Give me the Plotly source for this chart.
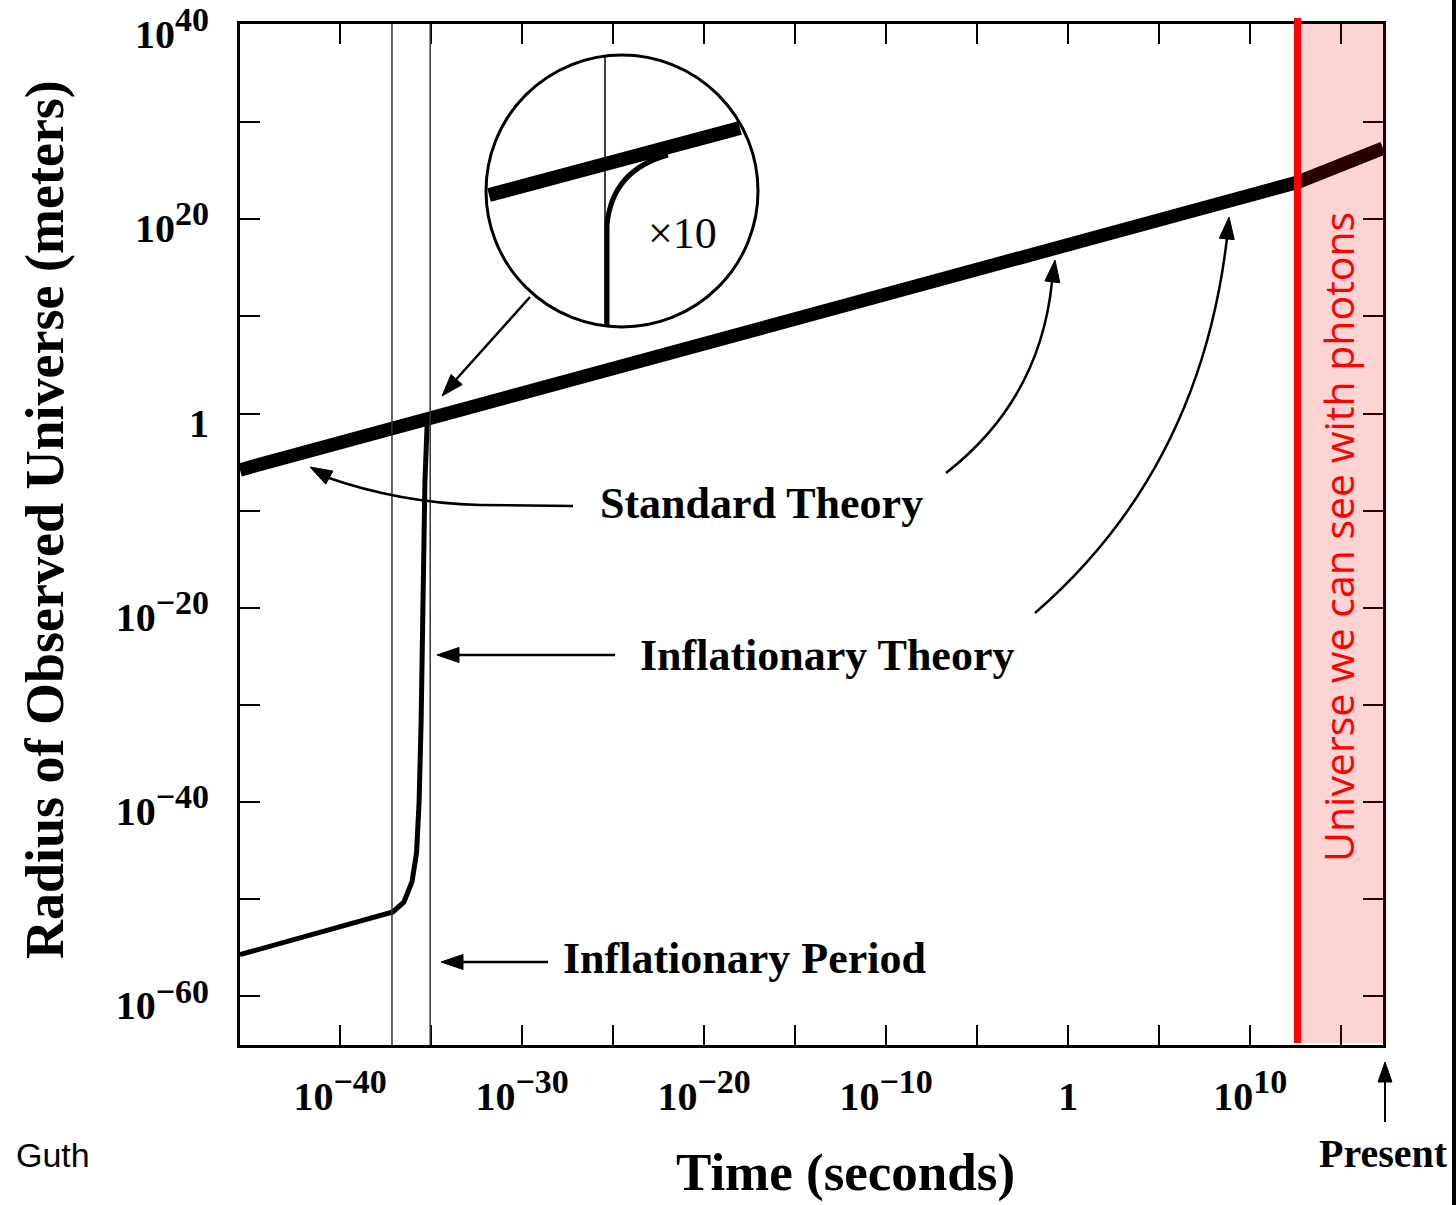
import plotly.graph_objects as go

# ---- data: base-10 exponents of time (s) and radius (m) ----
std_time_exp = [-45.5, -35.2, 0.0, 12.6, 17.3]
std_radius_exp = [-5.8, -0.5, 17.3, 23.8, 27.3]

infl_time_exp = [-45.5, -37.1, -36.5, -36.05, -35.8, -35.66, -35.55, -35.45, -35.34, -35.22]
infl_radius_exp = [-55.7, -51.3, -50.3, -48.2, -45.2, -40.0, -31.8, -19.4, -7.0, -1.2]

period_bounds_exp = [-37.15, -35.05]   # start / end of the inflationary period
photon_limit_exp = 12.6                # earliest time reachable with photons

x_tick_exp = list(range(-40, 16, 5))
y_tick_exp = list(range(-60, 41, 10))
x_label_exp = [-40, -30, -20, -10, 0, 10]
y_label_exp = [-60, -40, -20, 0, 20, 40]

X_RANGE = [-45.5, 17.3]
Y_RANGE = [-65.0, 40.1]

# ---- figure geometry (pixels) ----
W, H = 1456, 1205
L, R, T, B = 240, 1383, 24, 1045

SERIF = "Liberation Serif"


def pp(x, y):
    """pixel position -> paper coordinates"""
    return (x - L) / (R - L), (B - y) / (B - T)


def xexp_paper(e):
    return (e - X_RANGE[0]) / (X_RANGE[1] - X_RANGE[0])


def fmt(pt):
    x, y = pp(*pt)
    return f"{x:.5f},{y:.5f}"


def path_str(cmds):
    out = []
    for c in cmds:
        op, pts = c[0], c[1:]
        out.append(op + " " + " ".join(fmt(p) for p in pts))
    return " ".join(out)


def exp_label(e):
    if e == 0:
        return "1"
    s = str(e).replace("-", "\u2212")
    return f'10<sup><span style="font-size:34px">{s}</span></sup>'


shapes = []
annotations = []


def add_path(cmds, width=2.5, color="black", fill=None):
    shapes.append(dict(type="path", xref="paper", yref="paper", path=path_str(cmds),
                       line=dict(color=color, width=width),
                       fillcolor=fill if fill else "rgba(0,0,0,0)", layer="above"))


def add_head(tip, direction, length=22, width=15):
    dx, dy = direction
    n = (dx * dx + dy * dy) ** 0.5
    ux, uy = dx / n, dy / n
    bx, by = tip[0] - ux * length, tip[1] - uy * length
    nx, ny = -uy, ux
    c1 = (bx + nx * width / 2, by + ny * width / 2)
    c2 = (bx - nx * width / 2, by - ny * width / 2)
    shapes.append(dict(type="path", xref="paper", yref="paper",
                       path=path_str([("M", tip), ("L", c1), ("L", c2), ("Z",)]),
                       line=dict(color="black", width=1), fillcolor="black", layer="above"))


def add_text(text, x, y, size, family=SERIF, weight="bold", color="black",
             xanchor="center", yanchor="middle", angle=0):
    px_, py_ = pp(x, y)
    annotations.append(dict(text=text, x=px_, y=py_, xref="paper", yref="paper",
                            showarrow=False, xanchor=xanchor, yanchor=yanchor,
                            textangle=angle,
                            font=dict(family=family, size=size, color=color, weight=weight)))


fig = go.Figure()

fig.add_trace(go.Scatter(
    x=[10 ** e for e in infl_time_exp], y=[10 ** e for e in infl_radius_exp],
    mode="lines", line=dict(color="black", width=5), hoverinfo="skip", showlegend=False))

fig.add_trace(go.Scatter(
    x=[10 ** e for e in std_time_exp], y=[10 ** e for e in std_radius_exp],
    mode="lines", line=dict(color="black", width=13.5), hoverinfo="skip", showlegend=False))

# inflationary period boundaries
for e in period_bounds_exp:
    xp = xexp_paper(e)
    shapes.append(dict(type="line", xref="paper", yref="paper", x0=xp, x1=xp, y0=0, y1=1,
                       line=dict(color="#333333", width=1.5), layer="above"))

# magnified inset
cx, cy, rad = 622, 191, 136
x0, y0 = pp(cx - rad, cy + rad)
x1, y1 = pp(cx + rad, cy - rad)
shapes.append(dict(type="circle", xref="paper", yref="paper", x0=x0, y0=y0, x1=x1, y1=y1,
                   line=dict(color="black", width=3), fillcolor="white", layer="above"))
a0, b0 = pp(605, 56)
a1, b1 = pp(605, 326)
shapes.append(dict(type="line", xref="paper", yref="paper", x0=a0, y0=b0, x1=a1, y1=b1,
                   line=dict(color="black", width=1.5), layer="above"))
a0, b0 = pp(489, 195)
a1, b1 = pp(740, 128)
shapes.append(dict(type="line", xref="paper", yref="paper", x0=a0, y0=b0, x1=a1, y1=b1,
                   line=dict(color="black", width=14), layer="above"))
add_path([("M", (607, 327)), ("L", (607, 225)), ("Q", (612, 170), (668, 155))], width=5)
add_text("\u00d710", 682, 233, 44, weight="normal")

# arrows
add_path([("M", (530, 297)), ("L", (452, 384))])
add_head((442, 396), (-88, 99))

add_path([("M", (573, 506)), ("L", (480, 505)), ("Q", (400, 503), (326, 477))])
add_head((310, 467), (-1, -0.55))

add_path([("M", (946, 473)), ("Q", (1040, 400), (1052, 282))])
add_head((1055, 260), (0.12, -1))

add_path([("M", (615, 655)), ("L", (455, 655))])
add_head((437, 655), (-1, 0))

add_path([("M", (1035, 613)), ("Q", (1200, 470), (1227, 238))])
add_head((1229, 217), (0.1, -1))

add_path([("M", (548, 962)), ("L", (460, 962))])
add_head((441, 962), (-1, 0))

add_path([("M", (1385, 1122)), ("L", (1385, 1080))], width=2)
add_head((1385, 1062), (0, -1), length=20, width=14)

# region observable with photons
xr = xexp_paper(photon_limit_exp)
_, ytop = pp(0, 24)
_, ybot = pp(0, 1043)
xend, _ = pp(1385, 0)
shapes.append(dict(type="rect", xref="paper", yref="paper", x0=xr, x1=xend, y0=ybot, y1=ytop,
                   line=dict(width=0), fillcolor="rgba(240,0,0,0.17)", layer="above"))
_, yline_top = pp(0, 18)
shapes.append(dict(type="line", xref="paper", yref="paper", x0=xr, x1=xr, y0=ybot, y1=yline_top,
                   line=dict(color="#ff0000", width=7), layer="above"))

# dark strip along the right edge
sx0, _ = pp(1452, 0)
sx1, _ = pp(1460, 0)
shapes.append(dict(type="rect", xref="paper", yref="paper", x0=sx0, x1=sx1,
                   y0=pp(0, 1210)[1], y1=pp(0, -5)[1],
                   line=dict(width=0), fillcolor="black", layer="above"))

# texts
add_text("Standard Theory", 761, 503, 44)
add_text("Inflationary Theory", 827, 655, 44)
add_text("Inflationary Period", 744, 958, 44)
add_text("Present", 1317, 1153, 40, xanchor="left")
add_text("Time (seconds)", 845, 1172, 53)
add_text("Radius of Observed Universe (meters)", 45, 520, 54, angle=-90)
add_text("Universe we can see with photons", 1338, 537, 41, family="Open Sans",
         weight="normal", color="#ff0000", angle=-90)
add_text("Guth", 14, 1155, 34, family="Liberation Sans", weight="normal", xanchor="left")

axis_common = dict(
    type="log", showgrid=False, zeroline=False, showline=True, linecolor="black",
    linewidth=3, mirror="ticks", ticks="inside", ticklen=20, tickwidth=2,
    tickcolor="black", ticklabeloverflow="allow", automargin=False,
    tickfont=dict(family=SERIF, size=40, color="black", weight="bold"),
)

fig.update_xaxes(
    range=X_RANGE,
    tickvals=[10.0 ** e for e in x_tick_exp],
    ticktext=[exp_label(e) if e in x_label_exp else "" for e in x_tick_exp],
    ticklabelstandoff=14,
    **axis_common,
)
fig.update_yaxes(
    range=Y_RANGE,
    tickvals=[10.0 ** e for e in y_tick_exp],
    ticktext=[exp_label(e) if e in y_label_exp else "" for e in y_tick_exp],
    ticklabelstandoff=20,
    ticklabelshift=9,
    **axis_common,
)

fig.update_layout(
    width=W, height=H,
    margin=dict(l=L, r=W - R, t=T, b=H - B, pad=0, autoexpand=False),
    paper_bgcolor="white", plot_bgcolor="white",
    shapes=shapes, annotations=annotations,
    showlegend=False,
)

fig.write_html("out.html", config={"displayModeBar": False})
